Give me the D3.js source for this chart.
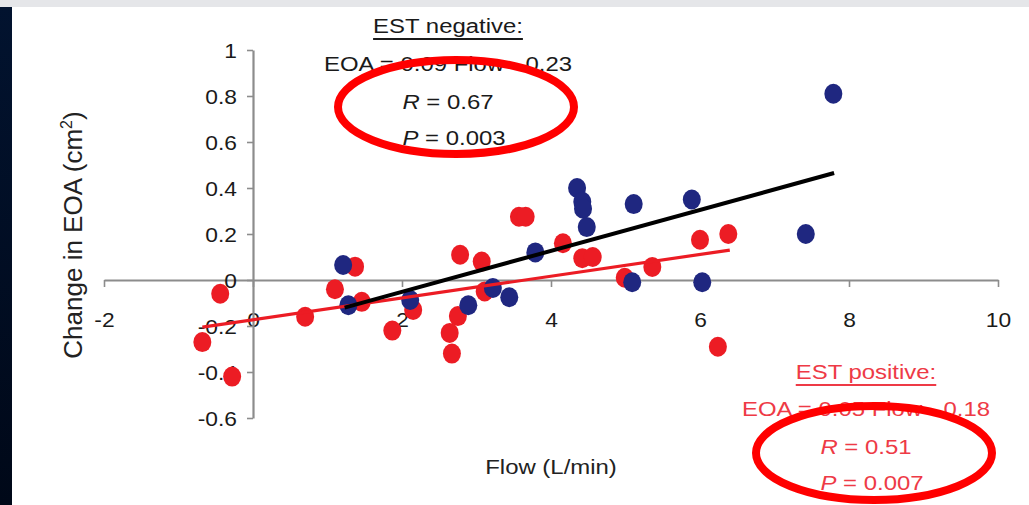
<!DOCTYPE html>
<html><head><meta charset="utf-8">
<script src="https://cdn.jsdelivr.net/npm/d3@7"></script>
<style>html,body{margin:0;padding:0;background:#fff;overflow:hidden}svg{display:block}</style>
</head><body>
<script>
// ---- data ----
const xTicks = [-2, 0, 2, 4, 6, 8, 10];
const yTicks = [-0.6, -0.4, -0.2, 0, 0.2, 0.4, 0.6, 0.8, 1];
const yTickLabels = ["-0.6", "-0.4", "-0.2", "0", "0.2", "0.4", "0.6", "0.8", "1"];

// EST negative (blue)
const negFlow = [7.79, 7.42, 5.11, 5.89, 5.09, 6.03, 4.35, 4.42, 4.43, 4.48, 3.79, 3.22, 3.44, 2.89, 1.21, 1.28, 2.11];
const negEOA  = [0.81, 0.20, 0.33, 0.35, -0.01, -0.01, 0.40, 0.34, 0.31, 0.23, 0.12, -0.035, -0.075, -0.11, 0.065, -0.11, -0.087];

// EST positive (red)
const posFlow = [-0.44, -0.68, -0.28, 0.70, 1.10, 1.37, 1.46, 2.15, 1.87, 2.64, 2.67, 2.75, 2.78, 3.07, 3.11, 4.16, 4.42, 4.56, 4.99, 5.36, 6.00, 6.38, 6.24, 3.57, 3.66];
const posEOA  = [-0.06, -0.27, -0.42, -0.16, -0.04, 0.058, -0.095, -0.13, -0.22, -0.23, -0.32, -0.157, 0.11, 0.08, -0.05, 0.16, 0.095, 0.10, 0.01, 0.057, 0.175, 0.20, -0.29, 0.275, 0.275];

// regression lines (endpoints)
const negLineFlow = [1.23, 7.8];
const negLineEOA  = [-0.12, 0.465];
const posLineFlow = [-0.68, 6.4];
const posLineEOA  = [-0.205, 0.13];

const negTitle = "EST negative:";
const negEq = "EOA = 0.09 Flow - 0.23";
const negR = "0.67", negP = "0.003";
const posTitle = "EST positive:";
const posEq = "EOA = 0.05 Flow - 0.18";
const posR = "0.51", posP = "0.007";

// ---- drawing ----
const W = 1029, H = 505;
const svg = d3.select("body").append("svg").attr("width", W).attr("height", H);
const FONT = "'Liberation Sans', Arial, Helvetica, sans-serif";
const SX = 1.14;

// frame decorations
svg.append("rect").attr("x", 0).attr("y", 0).attr("width", W).attr("height", 7).attr("fill", "#e5e6e9");
const grad = svg.append("defs").append("linearGradient").attr("id", "lb").attr("x1", 0).attr("y1", 0).attr("x2", 0).attr("y2", 1);
grad.append("stop").attr("offset", "0%").attr("stop-color", "#02132f");
grad.append("stop").attr("offset", "100%").attr("stop-color", "#000818");
svg.append("rect").attr("x", 0).attr("y", 7).attr("width", 12).attr("height", H - 7).attr("fill", "url(#lb)");

const x = d3.scaleLinear().domain([-2, 10]).range([104, 998]);
const y = d3.scaleLinear().domain([-0.6, 1]).range([418, 50]);
const AX = "#8c8c8c";

// x axis (at y=0)
const xAxis = d3.axisBottom(x).tickValues(xTicks).tickSize(7).tickSizeOuter(0).tickFormat(d3.format("d"));
const gx = svg.append("g").attr("transform", `translate(0,${y(0)})`).call(xAxis);
gx.select(".domain").attr("stroke", AX).attr("stroke-width", 2.2);
gx.selectAll(".tick line").attr("stroke", AX).attr("stroke-width", 1.6);
gx.selectAll(".tick text").remove();
gx.selectAll(".tick").append("text")
  .attr("transform", `translate(0,47) scale(${SX},1)`)
  .attr("text-anchor", "middle").attr("fill", "#1a1a1a")
  .style("font-family", FONT).style("font-size", "20px")
  .text(d => d);

// y axis
const yAxis = d3.axisLeft(y).tickValues(yTicks).tickSize(6).tickSizeOuter(0);
const gy = svg.append("g").attr("transform", `translate(${x(0)},0)`).call(yAxis);
gy.select(".domain").attr("stroke", AX).attr("stroke-width", 2.2);
gy.selectAll(".tick line").attr("stroke", AX).attr("stroke-width", 1.6);
gy.selectAll(".tick text").remove();
gy.selectAll(".tick").append("text")
  .attr("transform", `translate(-16,7) scale(${SX},1)`)
  .attr("text-anchor", "end").attr("fill", "#1a1a1a")
  .style("font-family", FONT).style("font-size", "20px")
  .text((d, i) => yTickLabels[i]);

// axis titles
svg.append("text")
  .attr("transform", `translate(${x(4)},${474}) scale(${SX},1)`)
  .attr("text-anchor", "middle").attr("fill", "#222")
  .style("font-family", FONT).style("font-size", "21px")
  .text("Flow (L/min)");
const yl = svg.append("text")
  .attr("transform", `translate(82,235) rotate(-90)`)
  .attr("text-anchor", "middle").attr("fill", "#222")
  .style("font-family", FONT).style("font-size", "26px");
yl.append("tspan").text("Change in EOA (cm");
yl.append("tspan").attr("dy", -10).style("font-size", "16px").text("2");
yl.append("tspan").attr("dy", 10).text(")");

// points
const BLUE = "#1f2780", RED = "#ec1c24";
svg.append("g").selectAll("ellipse").data(posFlow.map((f, i) => [f, posEOA[i]])).join("ellipse")
  .attr("cx", d => x(d[0])).attr("cy", d => y(d[1])).attr("rx", 9).attr("ry", 10).attr("fill", RED);
svg.append("g").selectAll("ellipse").data(negFlow.map((f, i) => [f, negEOA[i]])).join("ellipse")
  .attr("cx", d => x(d[0])).attr("cy", d => y(d[1])).attr("rx", 9).attr("ry", 10).attr("fill", BLUE);

// trend lines
const line = d3.line().x(d => x(d[0])).y(d => y(d[1]));
svg.append("path").datum(posLineFlow.map((f, i) => [f, posLineEOA[i]]))
  .attr("d", line).attr("stroke", RED).attr("stroke-width", 3.2).attr("fill", "none");
svg.append("path").datum(negLineFlow.map((f, i) => [f, negLineEOA[i]]))
  .attr("d", line).attr("stroke", "#000").attr("stroke-width", 4).attr("fill", "none");

// annotations
function annot(cx, ys, col, title, eq, r, p) {
  const g = svg.append("g").attr("fill", col).style("font-family", FONT);
  const t = g.append("text").attr("transform", `translate(${cx},${ys[0]}) scale(${SX},1)`)
    .attr("text-anchor", "middle").style("font-size", "21px").text(title);
  const bb = t.node().getBBox();
  g.append("line").attr("x1", cx - bb.width * SX / 2).attr("x2", cx + bb.width * SX / 2)
    .attr("y1", ys[0] + 6).attr("y2", ys[0] + 6).attr("stroke", col).attr("stroke-width", 2);
  g.append("text").attr("transform", `translate(${cx},${ys[1]}) scale(${SX},1)`)
    .attr("text-anchor", "middle").style("font-size", "21px").text(eq);
  const tr = g.append("text").attr("transform", `translate(${cx},${ys[2]}) scale(${SX},1)`)
    .attr("text-anchor", "middle").style("font-size", "21px");
  tr.append("tspan").style("font-style", "italic").text("R");
  tr.append("tspan").text(" = " + r);
  const tp = g.append("text").attr("transform", `translate(${cx + 6},${ys[3]}) scale(${SX},1)`)
    .attr("text-anchor", "middle").style("font-size", "21px");
  tp.append("tspan").style("font-style", "italic").text("P");
  tp.append("tspan").text(" = " + p);
}
annot(448, [33, 71, 109, 145], "#1a1a1a", negTitle, negEq, negR, negP);
annot(866, [379, 416, 454, 490], "#ee3a46", posTitle, posEq, posR, posP);

// red circling ellipses
svg.append("ellipse").attr("cx", 456).attr("cy", 107).attr("rx", 118).attr("ry", 47)
  .attr("fill", "none").attr("stroke", "#ff0000").attr("stroke-width", 8);
svg.append("ellipse").attr("cx", 874).attr("cy", 453).attr("rx", 118).attr("ry", 47)
  .attr("fill", "none").attr("stroke", "#ff0000").attr("stroke-width", 8);
</script>
</body></html>
